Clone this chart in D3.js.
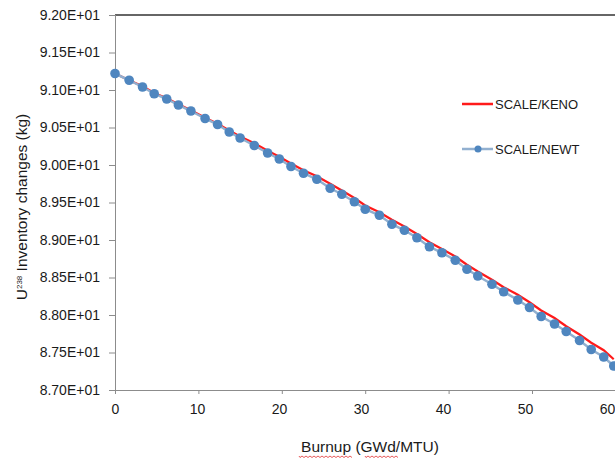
<!DOCTYPE html>
<html>
<head>
<meta charset="utf-8">
<script src="https://cdn.jsdelivr.net/npm/d3@7"></script>
<style>
  html, body { margin: 0; padding: 0; background: #fff; overflow: hidden; }
  text { font-family: "Liberation Sans", Arial, sans-serif; fill: #1a1a1a; }
  .axis path, .axis line { stroke: #8c8c8c; }
</style>
</head>
<body>
<div class="chart"></div>
<script>
// burnup steps (GWd/MTU)
var burnup = [0, 1.7, 3.3, 4.7, 6.2, 7.6, 9.1, 10.8, 12.3, 13.7, 15.0, 16.7, 18.3, 19.7,
  21.1, 22.6, 24.2, 25.8, 27.2, 28.7, 30.0, 31.7, 33.2, 34.7, 36.2, 37.7, 39.2, 40.8,
  42.2, 43.5, 45.2, 46.6, 48.3, 49.7, 51.1, 52.7, 54.1, 55.7, 57.1, 58.6, 59.8];

// U238 inventory (kg)
var newt = [91.22, 91.13, 91.04, 90.95, 90.88, 90.80, 90.72, 90.62, 90.54, 90.44, 90.36,
  90.26, 90.16, 90.08, 89.98, 89.89, 89.81, 89.69, 89.61, 89.51, 89.41, 89.33, 89.21,
  89.13, 89.03, 88.91, 88.83, 88.73, 88.61, 88.52, 88.41, 88.31, 88.20, 88.10, 87.98,
  87.88, 87.78, 87.66, 87.54, 87.44, 87.32];

var keno = [91.22, 91.13, 91.05, 90.96, 90.89, 90.81, 90.73, 90.63, 90.55, 90.46, 90.38,
  90.29, 90.19, 90.11, 90.02, 89.93, 89.85, 89.75, 89.66, 89.56, 89.46, 89.37, 89.27,
  89.18, 89.08, 88.97, 88.88, 88.78, 88.67, 88.58, 88.47, 88.37, 88.27, 88.17, 88.06,
  87.96, 87.85, 87.74, 87.63, 87.53, 87.41];

var xTicks = [0, 10, 20, 30, 40, 50, 60];
var yTicks = [87.0, 87.5, 88.0, 88.5, 89.0, 89.5, 90.0, 90.5, 91.0, 91.5, 92.0];
var seriesNames = ["SCALE/KENO", "SCALE/NEWT"];

var width = 615, height = 462;
var plotLeft = 115, plotTop = 15, plotBottom = 390;

var svg = d3.select(".chart").append("svg")
  .attr("width", width)
  .attr("height", height);

var x = d3.scaleLinear().domain([0, 70]).range([plotLeft, plotLeft + 7 * 83.4]);
var y = d3.scaleLinear().domain([87, 92]).range([plotBottom, plotTop]);
// tick labels sit a little left of their ticks in the original
var xLabel = d3.scaleLinear().domain([0, 60]).range([plotLeft, 607]);

// top border of the plot area
svg.append("line")
  .attr("x1", plotLeft).attr("x2", width)
  .attr("y1", y(92)).attr("y2", y(92))
  .attr("stroke", "#333").attr("stroke-width", 1.5);

var yAxis = svg.append("g")
  .attr("class", "axis")
  .attr("transform", "translate(" + plotLeft + ",0)")
  .call(d3.axisLeft(y).tickValues(yTicks).tickSize(6).tickPadding(9)
    .tickFormat(function(d) { return (d / 10).toFixed(2) + "E+01"; }));
yAxis.select(".domain").attr("d", "M0.5," + y(92) + "V" + (plotBottom + 4));

var xAxis = svg.append("g")
  .attr("class", "axis")
  .attr("transform", "translate(0," + plotBottom + ")")
  .call(d3.axisBottom(x).tickValues(xTicks).tickSize(4).tickPadding(10));
xAxis.select(".domain").attr("d", "M" + (plotLeft - 4) + ",0.5H" + width);
xAxis.selectAll(".tick text").attr("dx", function(d) { return xLabel(d) - x(d); });

svg.selectAll(".axis text").style("font-size", "14px").attr("fill", "#1a1a1a");

var pts = burnup.map(function(b, i) { return { b: b, newt: newt[i], keno: keno[i] }; });

var lineNewt = d3.line().x(function(d) { return x(d.b); }).y(function(d) { return y(d.newt); });
var lineKeno = d3.line().x(function(d) { return x(d.b); }).y(function(d) { return y(d.keno); });

svg.append("path")
  .datum(pts)
  .attr("d", lineKeno)
  .attr("fill", "none")
  .attr("stroke", "#ff1a1a")
  .attr("stroke-width", 2.2);

svg.append("path")
  .datum(pts)
  .attr("d", lineNewt)
  .attr("fill", "none")
  .attr("stroke", "#92b0d0")
  .attr("stroke-width", 2.5);

svg.selectAll(".dot")
  .data(pts)
  .enter().append("circle")
  .attr("class", "dot")
  .attr("cx", function(d) { return x(d.b); })
  .attr("cy", function(d) { return y(d.newt); })
  .attr("r", 4.8)
  .attr("fill", "#4f86bf");

// legend
var legend = svg.append("g").attr("transform", "translate(462,104)");
legend.append("line")
  .attr("x1", 0).attr("x2", 31).attr("y1", 0).attr("y2", 0)
  .attr("stroke", "#ff1a1a").attr("stroke-width", 2.5);
legend.append("text")
  .attr("x", 33).attr("y", 5)
  .style("font-size", "13px")
  .text(seriesNames[0]);
legend.append("line")
  .attr("x1", 0).attr("x2", 31).attr("y1", 45).attr("y2", 45)
  .attr("stroke", "#92b0d0").attr("stroke-width", 2.5);
legend.append("circle")
  .attr("cx", 16).attr("cy", 45).attr("r", 3.5)
  .attr("fill", "#4f86bf");
legend.append("text")
  .attr("x", 33).attr("y", 50)
  .style("font-size", "13px")
  .text(seriesNames[1]);

// axis titles
svg.append("text")
  .attr("x", 370).attr("y", 452)
  .attr("text-anchor", "middle")
  .style("font-size", "15.5px")
  .text("Burnup (GWd/MTU)");

// spell-check squiggles under "Burnup" and "GWd"
function squiggle(x0, x1, yy) {
  var d = "M" + x0 + "," + yy;
  for (var xx = x0; xx < x1; xx += 2) {
    d += "L" + (xx + 1) + "," + (yy + ((xx - x0) / 2 % 2 === 0 ? 1.5 : 0));
  }
  return d;
}
svg.append("path").attr("d", squiggle(299, 353, 456))
  .attr("fill", "none").attr("stroke", "#e03030").attr("stroke-width", 0.8);
svg.append("path").attr("d", squiggle(365, 398, 456))
  .attr("fill", "none").attr("stroke", "#e03030").attr("stroke-width", 0.8);

var yt = svg.append("text")
  .attr("transform", "translate(27,207) rotate(-90)")
  .attr("text-anchor", "middle")
  .style("font-size", "15.5px");
yt.append("tspan").text("U");
yt.append("tspan").attr("dy", -5).style("font-size", "8px").text("238");
yt.append("tspan").attr("dy", 5).text(" Inventory changes (kg)");
</script>
</body>
</html>
